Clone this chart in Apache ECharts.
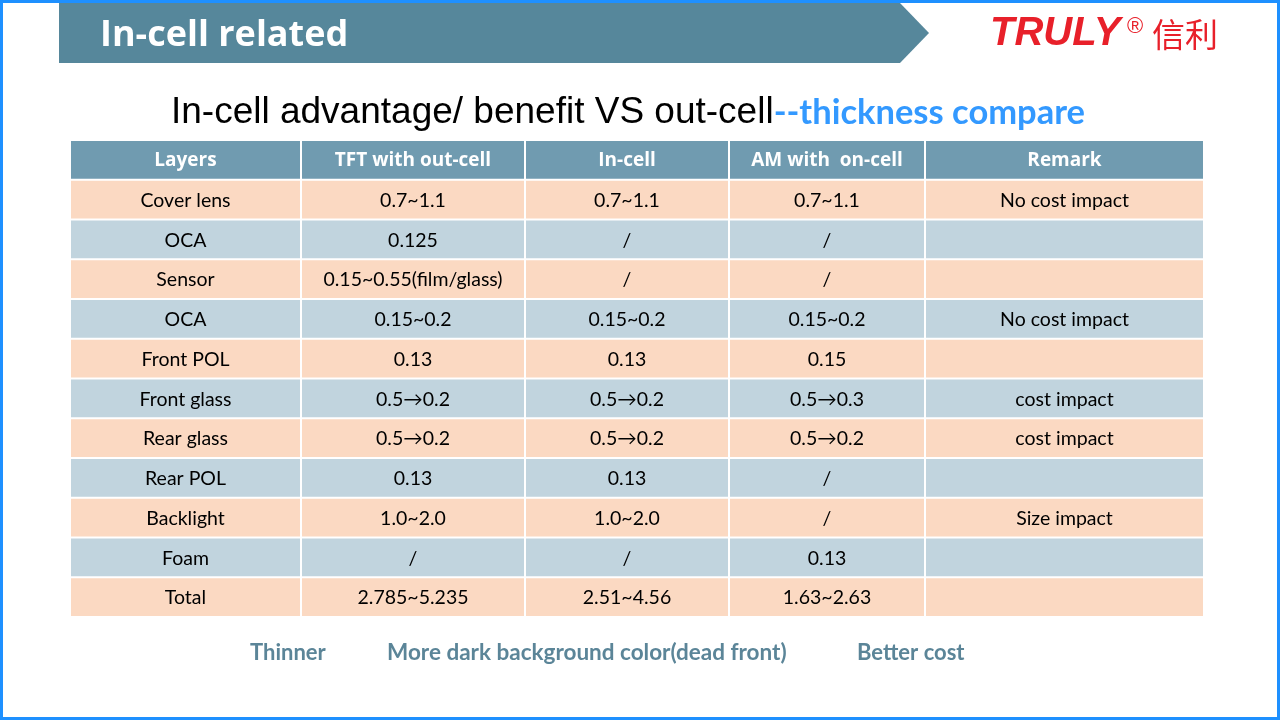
<!DOCTYPE html>
<html>
<head>
<meta charset="utf-8">
<script src="https://cdn.jsdelivr.net/npm/echarts@6/dist/echarts.min.js"></script>
<style>
html,body{margin:0;padding:0;background:#fff;}
#chart{width:1280px;height:720px;}
</style>
</head>
<body>
<div id="chart"></div>
<script>
// ---- data ----
const columns = ['Layers', 'TFT with out-cell', 'In-cell', 'AM with  on-cell', 'Remark'];
const layers = ['Cover lens', 'OCA', 'Sensor', 'OCA', 'Front POL', 'Front glass', 'Rear glass', 'Rear POL', 'Backlight', 'Foam', 'Total'];
const tftOutCell = ['0.7~1.1', '0.125', '0.15~0.55(film/glass)', '0.15~0.2', '0.13', '0.5\u21920.2', '0.5\u21920.2', '0.13', '1.0~2.0', '/', '2.785~5.235'];
const inCell = ['0.7~1.1', '/', '/', '0.15~0.2', '0.13', '0.5\u21920.2', '0.5\u21920.2', '0.13', '1.0~2.0', '/', '2.51~4.56'];
const amOnCell = ['0.7~1.1', '/', '/', '0.15~0.2', '0.15', '0.5\u21920.3', '0.5\u21920.2', '/', '/', '0.13', '1.63~2.63'];
const remarks = ['No cost impact', '', '', 'No cost impact', '', 'cost impact', 'cost impact', '', 'Size impact', '', ''];
const benefits = ['Thinner', 'More dark background color(dead front)', 'Better cost'];

// ---- layout (not data) ----
const colWeights = [231, 224, 204, 196, 279];
const colStarts = [];
let acc = 0;
colWeights.forEach(w => { colStarts.push(acc); acc += w; });
const totalW = acc;

const rowNames = ['header'].concat(layers.map((l, i) => 'r' + i));
const cells = [];
columns.forEach((c, ci) => cells.push([ci, 0, c]));
const bodyCols = [layers, tftOutCell, inCell, amOnCell, remarks];
layers.forEach((l, ri) => {
  bodyCols.forEach((col, ci) => cells.push([ci, ri + 1, col[ri]]));
});

const HEADER_BG = '#709bb0';
const ORANGE = '#fbd9c2';
const BLUE = '#c1d4de';

const chart = echarts.init(document.getElementById('chart'));
chart.setOption({
  animation: false,
  backgroundColor: '#ffffff',
  grid: { left: 70, top: 140, width: totalW, height: 477 },
  xAxis: { type: 'value', min: 0, max: totalW, show: false },
  yAxis: { type: 'category', data: rowNames, inverse: true, show: false },
  series: [{
    type: 'custom',
    data: cells,
    renderItem: function (params, api) {
      const ci = api.value(0), ri = api.value(1);
      const text = cells[params.dataIndex][2];
      const p0 = api.coord([colStarts[ci], ri]);
      const p1 = api.coord([colStarts[ci] + colWeights[ci], ri]);
      const h = api.size([0, 1])[1];
      const x = p0[0], y = p0[1] - h / 2, w = p1[0] - p0[0];
      const isHeader = ri === 0;
      const fill = isHeader ? HEADER_BG : (ri % 2 === 1 ? ORANGE : BLUE);
      return {
        type: 'group',
        children: [
          { type: 'rect', shape: { x: x + 1, y: y + 1, width: w - 2, height: h - 2 }, style: { fill: fill } },
          { type: 'text', x: x + w / 2, y: p0[1] + 1, style: {
              text: text, align: 'center', verticalAlign: 'middle',
              fill: isHeader ? '#ffffff' : '#000000',
              font: isHeader ? 'bold 19px "Open Sans"' : '19.5px Lato'
          } }
        ]
      };
    }
  }],
  graphic: [
    { type: 'rect', shape: { x: 1.5, y: 1.5, width: 1277, height: 717 }, style: { fill: 'none', stroke: '#1e90ff', lineWidth: 3 } },
    { type: 'polygon', shape: { points: [[59, 3], [900, 3], [929, 33], [900, 63], [59, 63]] }, style: { fill: '#56879b' } },
    { type: 'text', x: 100, y: 36, style: { text: 'In-cell related', font: 'bold 36px "Open Sans"', fill: '#ffffff', verticalAlign: 'middle' } },
    { type: 'text', x: 990, y: 34, style: { text: 'TRULY', font: 'italic bold 40px "Liberation Sans"', fill: '#e8202a', verticalAlign: 'middle' } },
    { type: 'text', x: 1127, y: 27, style: { text: '\u00ae', font: '22px "Liberation Sans"', fill: '#e8202a', verticalAlign: 'middle' } },
    { type: 'text', x: 1152, y: 34, style: { text: '信利', font: '33px "Noto Sans CJK SC"', fill: '#e8202a', verticalAlign: 'middle' } },
    { type: 'text', x: 628, y: 113, style: {
        text: '{a|In-cell advantage/ benefit VS out-cell}{b|--thickness compare}',
        align: 'center', verticalAlign: 'middle',
        rich: {
          a: { font: '37px "Liberation Sans"', fill: '#000000' },
          b: { font: 'bold 34.5px Lato', fill: '#3399ff' }
        }
    } },
    { type: 'text', x: 250, y: 653, style: { text: benefits[0], font: 'bold 22px Lato', fill: '#5b8598', verticalAlign: 'middle' } },
    { type: 'text', x: 387, y: 653, style: { text: benefits[1], font: 'bold 22.5px Lato', fill: '#5b8598', verticalAlign: 'middle' } },
    { type: 'text', x: 857, y: 653, style: { text: benefits[2], font: 'bold 22px Lato', fill: '#5b8598', verticalAlign: 'middle' } }
  ]
});
</script>
</body>
</html>
